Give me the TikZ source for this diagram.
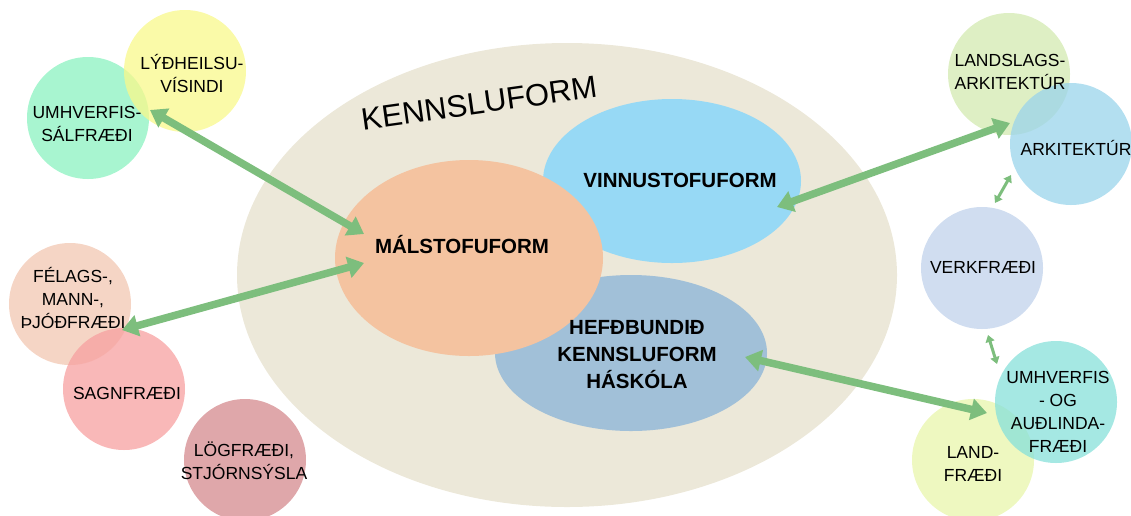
\documentclass[tikz,border=0pt]{standalone}
\usepackage{fontspec}
\setmainfont{Liberation Sans}
\usetikzlibrary{arrows.meta,shapes.geometric}
\definecolor{beigebg}{RGB}{236,232,217}
\definecolor{malcol}{RGB}{244,195,160}
\definecolor{vinncol}{RGB}{151,217,245}
\definecolor{hefcol}{RGB}{161,192,216}
\definecolor{arrowgreen}{RGB}{125,190,125}
\definecolor{cyel}{RGB}{248,248,139}
\definecolor{cgreen}{RGB}{139,242,192}
\definecolor{cfel}{RGB}{242,199,178}
\definecolor{csagn}{RGB}{247,160,160}
\definecolor{clog}{RGB}{212,138,142}
\definecolor{clandsl}{RGB}{211,234,176}
\definecolor{carki}{RGB}{154,212,235}
\definecolor{cverk}{RGB}{192,210,235}
\definecolor{cumhog}{RGB}{135,224,218}
\definecolor{cland}{RGB}{232,245,171}
\tikzset{
  circ/.style={circle, minimum size=122pt, inner sep=0pt, fill opacity=0.75, draw=none},
  ell/.style={ellipse, inner sep=0pt, draw=none},
  ctext/.style={align=center, font=\fontsize{17.5}{23}\selectfont, inner sep=0pt, text=black},
  btext/.style={align=center, font=\fontsize{20.5}{27}\selectfont\bfseries, inner sep=0pt, text=black},
  bigarrow/.style={draw=arrowgreen, line width=7.5pt, {Triangle[length=16pt,width=21pt]}-{Triangle[length=16pt,width=21pt]}},
  smallarrow/.style={draw=arrowgreen, line width=3pt, {Triangle[length=7pt,width=9pt]}-{Triangle[length=7pt,width=9pt]}}
}
\begin{document}
\begin{tikzpicture}[x=1pt,y=-1pt]
\useasboundingbox (0,0) rectangle (1131,515);
\clip (0,0) rectangle (1131,515);
% main ellipses
\node[ell, fill=beigebg, minimum width=660pt, minimum height=464pt] (big) at (567,275) {};
\node[ell, fill=vinncol, minimum width=258pt, minimum height=164pt] (vinn) at (672,181) {};
\node[ell, fill=hefcol, minimum width=272pt, minimum height=156pt] (hef) at (631,353) {};
\node[ell, fill=malcol, minimum width=268pt, minimum height=196pt] (mal) at (469,258) {};
\node[rotate=8, font=\fontsize{31}{31}\selectfont, inner sep=0pt] (kenn) at (479,103) {KENNSLUFORM};
\node[btext] (vinnt) at (680,180) {VINNUSTOFUFORM};
\node[btext] (malt) at (462,245) {MÁLSTOFUFORM};
\node[btext] (heft) at (637,355) {HEFÐBUNDIÐ\\KENNSLUFORM\\HÁSKÓLA};
% left circles
\node[circ, fill=cgreen] (umhs) at (88,118) {};
\node[circ, fill=cyel] (lyd) at (185,71) {};
\node[circ, fill=cfel] (fel) at (70,304) {};
\node[circ, fill=csagn] (sagn) at (124,389) {};
\node[circ, fill=clog] (log) at (245,460) {};
% right circles
\node[circ, fill=clandsl] (landsl) at (1009,74) {};
\node[circ, fill=carki] (arki) at (1071,144) {};
\node[circ, fill=cverk] (verk) at (982,268) {};
\node[circ, fill=cland] (land) at (973,460) {};
\node[circ, fill=cumhog] (umhog) at (1056,402) {};
% circle texts
\node[ctext] (lydt) at (192,73) {LÝÐHEILSU-\\VÍSINDI};
\node[ctext] (umhst) at (87,124) {UMHVERFIS-\\SÁLFRÆÐI};
\node[ctext] (felt) at (73,298) {FÉLAGS-,\\MANN-,\\ÞJÓÐFRÆÐI};
\node[ctext] (sagnt) at (127,393) {SAGNFRÆÐI};
\node[ctext] (logt) at (244,461) {LÖGFRÆÐI,\\STJÓRNSÝSLA};
\node[ctext] (landslt) at (1010,72) {LANDSLAGS-\\ARKITEKTÚR};
\node[ctext] (arkit) at (1076,148) {ARKITEKTÚR};
\node[ctext] (verkt) at (983,267) {VERKFRÆÐI};
\node[ctext] (umhogt) at (1058,412) {UMHVERFIS\\- OG\\AUÐLINDA-\\FRÆÐI};
\node[ctext] (landt) at (973,464) {LAND-\\FRÆÐI};
% arrow end points
\coordinate (a1s) at (150,110);
\coordinate (a1e) at (364,234);
\coordinate (a2s) at (122,330);
\coordinate (a2e) at (364,263);
\coordinate (a3s) at (777,207);
\coordinate (a3e) at (1010,123);
\coordinate (a4s) at (745,357);
\coordinate (a4e) at (987,413);
\coordinate (a5s) at (1011,175);
\coordinate (a5e) at (995,203);
\coordinate (a6s) at (988,335);
\coordinate (a6e) at (997,364);
\draw[bigarrow] (a1s) -- (a1e);
\draw[bigarrow] (a2s) -- (a2e);
\draw[bigarrow] (a3s) -- (a3e);
\draw[bigarrow] (a4s) -- (a4e);
\draw[smallarrow] (a5s) -- (a5e);
\draw[smallarrow] (a6s) -- (a6e);
\end{tikzpicture}
\end{document}
